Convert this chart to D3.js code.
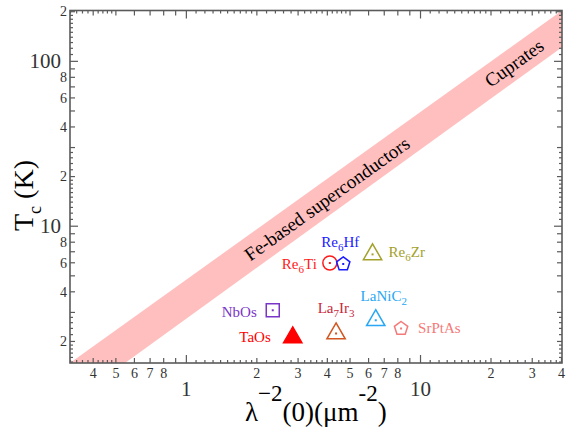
<!DOCTYPE html>
<html>
<head>
<meta charset="utf-8">
<script src="https://cdn.jsdelivr.net/npm/d3@7"></script>
<style>
body { margin: 0; background: #fff; }
text { font-family: "Liberation Serif", "Times New Roman", serif; }
</style>
</head>
<body>
<svg id="canvas" width="567" height="430"></svg>
<script>
// materials and their values
let materials = ['NbOs', 'TaOs', 'Re6Ti', 'Re6Hf', 'Re6Zr', 'La7Ir3', 'LaNiC2', 'SrPtAs'];
let lambdaInv2 = [2.35, 2.86, 4.12, 4.70, 6.27, 4.38, 6.47, 8.30];
let tcValues = [3.07, 2.10, 5.94, 5.86, 6.70, 2.22, 2.67, 2.38];
let shapes = ['square', 'filledTriangle', 'circle', 'pentagon', 'triangle', 'triangle', 'triangle', 'pentagon'];

// the Uemura band (edges given by their end points)
let bandUpperX = [0.32, 40.4];
let bandUpperTc = [1.47, 202];
let bandLowerX = [0.55, 40.4];
let bandLowerTc = [1.47, 121];

// tick labels
let xTickLabels = [0.4, 0.5, 0.6, 0.7, 0.8, 1, 2, 3, 4, 5, 6, 7, 8, 10, 20, 30, 40];
let yTickLabels = [2, 4, 6, 8, 10, 20, 40, 60, 80, 100, 200];

// styling / layout
let markerColors = ['#7a35c8', '#ff0000', '#ff1a1a', '#1a1aff', '#a3a12a', '#d2561e', '#27a7f5', '#f47a7a'];
let labelColors = ['#7a35c8', '#ff0000', '#ff1a1a', '#1a1aff', '#a3a12a', '#c8283c', '#27a7f5', '#f47a7a'];
let labelLayout = [
	{ dx: -16, dy: 7, anchor: 'end' },
	{ dx: -22, dy: 5, anchor: 'end' },
	{ dx: -13, dy: 6, anchor: 'end' },
	{ dx: -3, dy: -17, anchor: 'middle' },
	{ dx: 16, dy: 3, anchor: 'start' },
	{ dx: 0, dy: -20, anchor: 'middle' },
	{ dx: 8, dy: -19, anchor: 'middle' },
	{ dx: 17, dy: 5, anchor: 'start' }
];

let plotLeft = 70, plotRight = 562, plotTop = 10.5, plotBottom = 363;
let axisColor = '#5a5a5a';

let canvas = d3.select('#canvas');

let x = d3.scaleLog().domain([0.32, 40.4]).range([plotLeft, plotRight]);
let y = d3.scaleLog().domain([1.47, 202]).range([plotBottom, plotTop]);

// clip
canvas.append('clipPath').attr('id', 'plotClip')
	.append('rect')
	.attr('x', plotLeft).attr('y', plotTop)
	.attr('width', plotRight - plotLeft).attr('height', plotBottom - plotTop);

// band
let bandPoints = bandUpperX.map((v, i) => [x(v), y(bandUpperTc[i])])
	.concat(bandLowerX.map((v, i) => [x(v), y(bandLowerTc[i])]).reverse());
canvas.append('path')
	.attr('clip-path', 'url(#plotClip)')
	.attr('d', d3.line()(bandPoints) + 'Z')
	.attr('fill', '#ffbfbf');

let bandAngle = Math.atan2(y(bandUpperTc[1]) - y(bandUpperTc[0]), x(bandUpperX[1]) - x(bandUpperX[0])) * 180 / Math.PI;

let bandLabels = [
	{ text: 'Fe-based superconductors', x: 4.0, tc: 14.6 },
	{ text: 'Cuprates', x: 25.2, tc: 97 }
];
canvas.selectAll('.bandLabel')
	.data(bandLabels)
	.enter()
	.append('text')
	.attr('class', 'bandLabel')
	.attr('transform', (d) => `translate(${x(d.x)}, ${y(d.tc)}) rotate(${bandAngle})`)
	.attr('text-anchor', 'middle')
	.attr('dy', '0.35em')
	.attr('font-size', 19)
	.attr('fill', '#000')
	.text((d) => d.text);

// ticks
let decades = [], mediumTicks = [], xSmall = [], ySmall = [];
for (let e = -1; e <= 2; e++) {
	let d = Math.pow(10, e);
	decades.push(d);
	for (let m = 2; m <= 9; m++) mediumTicks.push(m * d);
	for (let m = 11; m < 20; m++) { xSmall.push(m * d / 10); ySmall.push(m * d / 10); }
	for (let m = 22; m < 50; m += 2) {
		if (m % 10 !== 0) xSmall.push(m * d / 10);
		if (m < 30) ySmall.push(m * d / 10);
	}
}
let inX = (v) => v >= x.domain()[0] && v <= x.domain()[1];
let inY = (v) => v >= y.domain()[0] && v <= y.domain()[1];

let tickSets = [
	{ values: decades, len: 8 },
	{ values: mediumTicks, len: 5 },
	{ values: null, len: 3 }
];

let drawTicks = (axis, transform, values, len) => {
	canvas.append('g')
		.attr('transform', transform)
		.call(axis.tickValues(values).tickSize(-len).tickFormat(''))
		.call((g) => g.select('.domain').remove())
		.call((g) => g.selectAll('line').attr('stroke', axisColor).attr('stroke-width', 1.2));
};

tickSets.forEach((set) => {
	let xv = (set.values || xSmall).filter(inX);
	let yv = (set.values || ySmall).filter(inY);
	drawTicks(d3.axisBottom(x), `translate(0, ${plotBottom})`, xv, set.len);
	drawTicks(d3.axisTop(x), `translate(0, ${plotTop})`, xv, set.len);
	drawTicks(d3.axisLeft(y), `translate(${plotLeft}, 0)`, yv, set.len);
	drawTicks(d3.axisRight(y), `translate(${plotRight}, 0)`, yv, set.len);
});

// frame
canvas.append('rect')
	.attr('x', plotLeft).attr('y', plotTop)
	.attr('width', plotRight - plotLeft).attr('height', plotBottom - plotTop)
	.attr('fill', 'none')
	.attr('stroke', axisColor)
	.attr('stroke-width', 1.6);

let isDecade = (v) => Math.abs(Math.log10(v) - Math.round(Math.log10(v))) < 1e-6;
let leading = (v) => isDecade(v) ? String(v) : String(Math.round(v / Math.pow(10, Math.floor(Math.log10(v) + 1e-9))));

// tick labels
canvas.append('g')
	.attr('transform', `translate(0, ${plotBottom})`)
	.call(d3.axisBottom(x).tickValues(xTickLabels).tickSize(0).tickFormat(leading))
	.call((g) => g.select('.domain').remove())
	.call((g) => g.selectAll('text')
		.attr('dy', 0)
		.attr('y', (d) => isDecade(d) ? 33 : 14.5)
		.attr('font-size', (d) => isDecade(d) ? 21 : 14)
		.attr('fill', '#333'));

canvas.append('g')
	.attr('transform', `translate(${plotLeft}, 0)`)
	.call(d3.axisLeft(y).tickValues(yTickLabels).tickSize(0).tickFormat(leading))
	.call((g) => g.select('.domain').remove())
	.call((g) => g.selectAll('text')
		.attr('dy', '0.34em')
		.attr('x', (d) => isDecade(d) ? -9 : -3)
		.attr('font-size', (d) => isDecade(d) ? 21 : 14)
		.attr('fill', '#333'));

// axis titles
let xTitle = canvas.append('text')
	.attr('x', 245)
	.attr('y', 421)
	.attr('font-size', 27)
	.attr('fill', '#000');
xTitle.append('tspan').text('λ');
xTitle.append('tspan').attr('dy', -20).attr('font-size', 23).text('−2');
xTitle.append('tspan').attr('dy', 20).text('(0)(μm');
xTitle.append('tspan').attr('dy', -20).attr('font-size', 23).text('-2');
xTitle.append('tspan').attr('dy', 20).text(')');

let yTitle = canvas.append('text')
	.attr('transform', 'translate(33, 231) rotate(-90)')
	.attr('font-size', 28)
	.attr('fill', '#000');
yTitle.append('tspan').text('T');
yTitle.append('tspan').attr('dy', 8).attr('font-size', 18).text('c');
yTitle.append('tspan').attr('dy', -8).text(' (K)');

// markers
let pentagonPath = (r) => {
	let pts = d3.range(5).map((i) => {
		let a = -Math.PI / 2 + i * 2 * Math.PI / 5;
		return [r * Math.cos(a), r * Math.sin(a)];
	});
	return d3.line()(pts) + 'Z';
};
let shapePath = (shape) => {
	if (shape === 'square') return d3.symbol(d3.symbolSquare, 169)();
	if (shape === 'circle') return d3.symbol(d3.symbolCircle, 154)();
	if (shape === 'pentagon') return pentagonPath(7);
	return d3.symbol(d3.symbolTriangle, 145)();
};

let points = materials.map((name, i) => ({
	name: name,
	x: lambdaInv2[i],
	tc: tcValues[i],
	shape: shapes[i],
	color: markerColors[i],
	labelColor: labelColors[i],
	layout: labelLayout[i]
}));

let block = canvas.selectAll('.point')
	.data(points)
	.enter()
	.append('g')
	.attr('class', 'point')
	.attr('transform', (d) => `translate(${x(d.x)}, ${y(d.tc)})`);

block.append('path')
	.attr('d', (d) => shapePath(d.shape))
	.attr('fill', (d) => d.shape === 'filledTriangle' ? d.color : 'none')
	.attr('stroke', (d) => d.color)
	.attr('stroke-width', 1.5);

block.filter((d) => d.shape !== 'filledTriangle')
	.append('rect')
	.attr('x', -1).attr('y', -1)
	.attr('width', 2).attr('height', 2)
	.attr('fill', (d) => d.color);

let label = block.append('text')
	.attr('x', (d) => d.layout.dx)
	.attr('y', (d) => d.layout.dy)
	.attr('text-anchor', (d) => d.layout.anchor)
	.attr('font-size', 15)
	.attr('fill', (d) => d.labelColor);

label.each(function (d) {
	let t = d3.select(this);
	let parts = d.name.match(/[A-Za-z]+|\d+/g);
	let lowered = false;
	parts.forEach((p) => {
		if (/\d/.test(p)) {
			t.append('tspan').attr('dy', 4).attr('font-size', 11).text(p);
			lowered = true;
		} else {
			t.append('tspan').attr('dy', lowered ? -4 : 0).text(p);
			lowered = false;
		}
	});
});
</script>
</body>
</html>
